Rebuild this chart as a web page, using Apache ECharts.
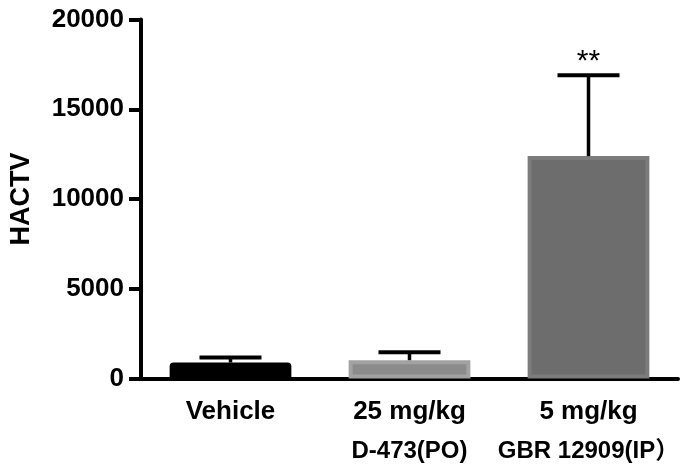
<!DOCTYPE html>
<html>
<head>
<meta charset="utf-8">
<script src="https://cdn.jsdelivr.net/npm/echarts@6/dist/echarts.min.js"></script>
<style>html,body{margin:0;padding:0;background:#fff}#c{width:688px;height:476px}</style>
</head>
<body>
<div id="c"></div>
<script>
var doseLabels = ['Vehicle', '25 mg/kg', '5 mg/kg'];
var drugLabels = ['', 'D-473(PO)', 'GBR 12909(IP）'];
var means = [890, 1020, 12390];
var errors = [280, 440, 4500];
var signif = ['', '', '**'];
var yTicks = [0, 5000, 10000, 15000, 20000];

var FONT = "'Liberation Sans', Arial, 'Noto Sans CJK SC', sans-serif";
var barFill = ['#000000', '#8b8b8b', '#6d6d6d'];
var barBorder = ['#000000', '#a2a2a2', '#7c7c7c'];

var chart = echarts.init(document.getElementById('c'), null, {renderer: 'canvas'});

var errData = means.map(function (m, i) { return [i, m, m + errors[i], signif[i]]; });

chart.setOption({
  animation: false,
  grid: {left: 134, right: 10, top: 19.5, bottom: 97.5},
  xAxis: {
    type: 'category',
    data: doseLabels,
    axisLine: {lineStyle: {color: '#000', width: 4}},
    axisTick: {alignWithLabel: true, length: 14, lineStyle: {color: '#000', width: 4}},
    axisLabel: {
      margin: 18,
      interval: 0,
      formatter: function (v, i) {
        return '{a|' + doseLabels[i] + '}\n{b|' + (drugLabels[i] || ' ') + '}';
      },
      rich: {
        a: {fontFamily: FONT, fontWeight: 'bold', fontSize: 26, color: '#000', lineHeight: 30},
        b: {fontFamily: FONT, fontWeight: 'bold', fontSize: 24, color: '#000', lineHeight: 50}
      }
    }
  },
  yAxis: {
    type: 'value',
    min: yTicks[0],
    max: yTicks[yTicks.length - 1],
    interval: yTicks[1] - yTicks[0],
    name: 'HACTV',
    nameLocation: 'middle',
    nameGap: 106,
    nameRotate: 90,
    nameTextStyle: {fontFamily: FONT, fontWeight: 'bold', fontSize: 27, color: '#000'},
    axisLine: {show: true, lineStyle: {color: '#000', width: 4}},
    axisTick: {show: true, length: 12, lineStyle: {color: '#000', width: 4}},
    splitLine: {show: false},
    axisLabel: {
      margin: 17,
      fontFamily: FONT, fontWeight: 'bold', fontSize: 26, color: '#000',
      formatter: function (v) { return String(v); }
    }
  },
  series: [
    {
      type: 'bar',
      barWidth: '68%',
      data: means.map(function (m, i) {
        return {value: m, itemStyle: {color: barFill[i], borderColor: barBorder[i], borderWidth: i === 0 ? 0 : 4, borderRadius: i === 0 ? [4, 4, 0, 0] : 0}};
      }),
      z: 2
    },
    {
      type: 'custom',
      z: 3,
      data: errData,
      renderItem: function (params, api) {
        var x = api.value(0);
        var base = api.coord([x, api.value(1)]);
        var top = api.coord([x, api.value(2)]);
        var half = 31;
        var children = [
          {type: 'line', shape: {x1: base[0], y1: base[1], x2: top[0], y2: top[1]}, style: {stroke: '#000', lineWidth: 3.5}},
          {type: 'line', shape: {x1: top[0] - half, y1: top[1], x2: top[0] + half, y2: top[1]}, style: {stroke: '#000', lineWidth: 4}}
        ];
        var s = signif[params.dataIndex];
        if (s) {
          children.push({type: 'text', style: {text: s, x: top[0], y: top[1] + 1, textAlign: 'center', textVerticalAlign: 'bottom', font: '30px ' + FONT, fill: '#000'}});
        }
        return {type: 'group', children: children};
      }
    }
  ]
});
</script>
</body>
</html>
